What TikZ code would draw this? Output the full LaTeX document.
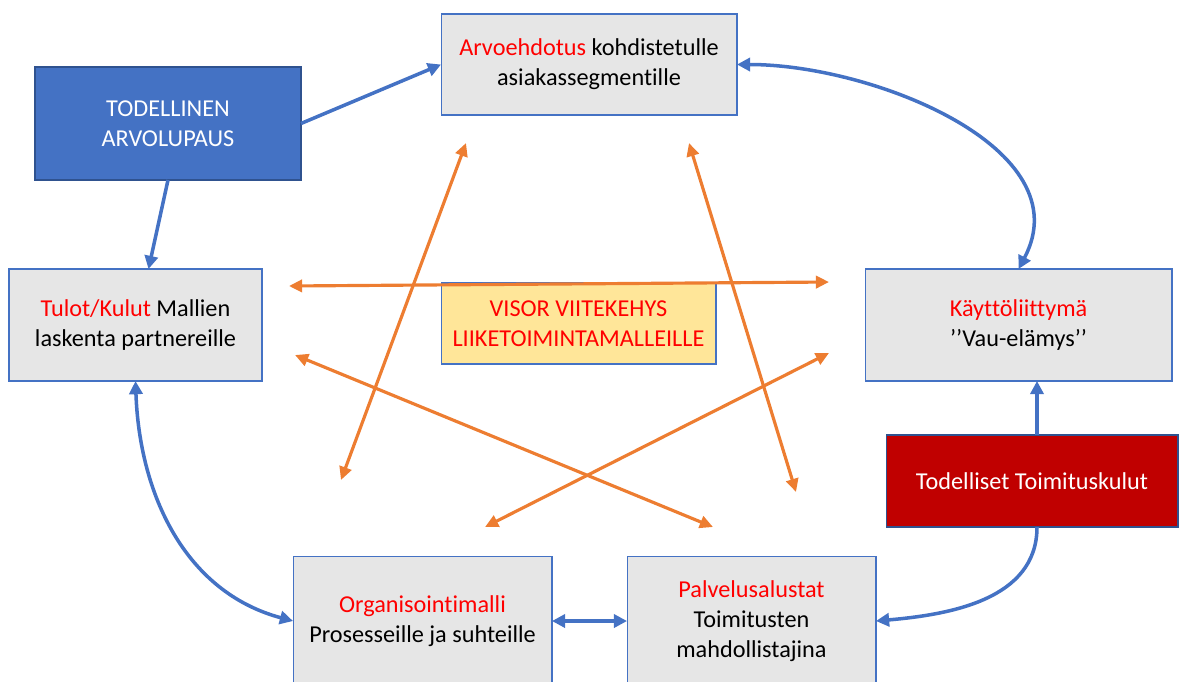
\documentclass[tikz,border=0pt]{standalone}
\usepackage{fontspec}
\setmainfont{Carlito}[Ligatures=NoCommon]
\usepackage{xcolor}
\usetikzlibrary{positioning}
\usetikzlibrary{arrows.meta}
\definecolor{boxgray}{HTML}{E6E6E6}
\definecolor{boxedge}{HTML}{4472C4}
\definecolor{darkedge}{HTML}{2F528F}
\definecolor{offerblue}{HTML}{4472C4}
\definecolor{costred}{HTML}{C00000}
\definecolor{visoryellow}{HTML}{FFE699}
\definecolor{hlred}{HTML}{FF0000}
\definecolor{linkblue}{HTML}{4472C4}
\definecolor{crossorange}{HTML}{ED7D31}
\tikzset{box/.style={
          draw=boxedge, line width=0.6pt, fill=boxgray,
          align=center, inner sep=0pt, outer sep=0pt,
          font=\fontsize{13.8}{17}\selectfont
          },
        bluebox/.style={box, fill=offerblue, draw=darkedge, text=white},
        redbox/.style={box, fill=costred, draw=darkedge, text=white},
        visorbox/.style={box, fill=visoryellow, text=hlred},
        link/.style={draw=linkblue, line width=2pt, -{Triangle[length=7.5pt, width=7.5pt]}},
        twoway/.style={link, {Triangle[length=7.5pt, width=7.5pt]}-{Triangle[length=7.5pt, width=7.5pt]}},
        cross/.style={draw=crossorange, line width=1.8pt, {Triangle[length=7.5pt, width=7pt]}-{Triangle[length=7.5pt, width=7pt]}},
}
\newcommand{\hl}[1]{\textcolor{hlred}{#1}}

\begin{document}
\begin{tikzpicture}[x=0.02cm, y=-0.02cm]
      \useasboundingbox (0,0) rectangle (1179,681);
      % BUSINESS MODEL BOXES
      \node[box, minimum width=5.92cm, minimum height=2.02cm] (arvo) at (589,64.5)
        {\hl{Arvoehdotus} kohdistetulle\\asiakassegmentille};
      \node[bluebox, minimum width=5.32cm, minimum height=2.26cm] (tod) at (168,123.5)
        {TODELLINEN\\ARVOLUPAUS};
      \node[box, minimum width=5.06cm, minimum height=2.24cm] (tulot) at (135.5,325)
        {\hl{Tulot/Kulut} Mallien\\laskenta partnereille};
      \node[box, minimum width=6.14cm, minimum height=2.24cm] (kayt) at (1018.5,325)
        {\hl{Käyttöliittymä}\\’’Vau-elämys’’};
      \node[visorbox, minimum width=5.5cm, minimum height=1.62cm] (visor) at (578.5,323.5)
        {VISOR VIITEKEHYS\\LIIKETOIMINTAMALLEILLE};
      \node[redbox, minimum width=5.84cm, minimum height=1.84cm] (todel) at (1032,481)
        {Todelliset Toimituskulut};
      \node[box, minimum width=5.18cm, minimum height=2.6cm] (orga) at (422.5,621)
        {\hl{Organisointimalli}\\Prosesseille ja suhteille};
      \node[box, minimum width=4.98cm, minimum height=2.6cm] (palv) at (751.5,621)
        {\hl{Palvelusalustat}\\Toimitusten\\mahdollistajina};

      % BLUE LINKS
      \draw[link] (tod.east) -- (arvo.west);
      \draw[link] (tod.south) -- ([xshift=0.26cm]tulot.north);
      \draw[twoway] (arvo.east) to[out=0, in=62] (kayt.north);
      \draw[twoway] (tulot.south) to[out=-88, in=165] (orga.west);
      \draw[twoway] (orga.east) -- (palv.west);
      \draw[link] ([xshift=0.1cm]todel.north) -- ([xshift=0.1cm]todel.north |- kayt.south);
      \draw[link] ([xshift=0.1cm]todel.south) to[out=-90, in=5] (palv.east);

      % ORANGE CROSSING ARROWS
      \coordinate (c1a) at (289,286);  \coordinate (c1b) at (829,282);
      \coordinate (c2a) at (295,355);  \coordinate (c2b) at (713,527);
      \coordinate (c3a) at (829,353);  \coordinate (c3b) at (485,527);
      \coordinate (c4a) at (466,143);  \coordinate (c4b) at (341,480);
      \coordinate (c5a) at (689,143);  \coordinate (c5b) at (796,492);
      \foreach \i in {1,...,5}
        \draw[cross] (c\i a) -- (c\i b);
\end{tikzpicture}
\end{document}
